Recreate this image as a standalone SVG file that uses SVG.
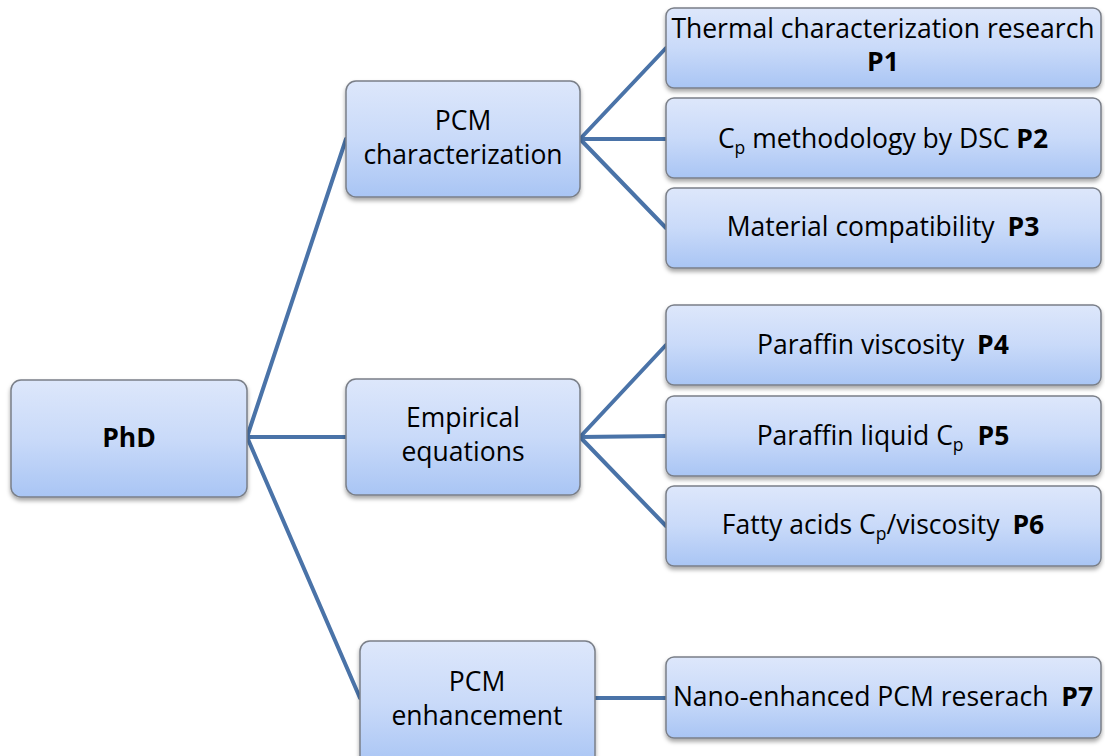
<svg xmlns="http://www.w3.org/2000/svg" width="1105" height="756" viewBox="0 0 1105 756">
<style>
.box{fill:url(#g);stroke:#7a7f88;stroke-width:1.5;filter:url(#sh)}
.t{font-family:"Open Sans",Lato,sans-serif;font-size:26.5px;fill:#000;text-anchor:middle}
.b{font-weight:bold}
.s{font-size:17.5px}
.c{fill:none;stroke:#4a73a8;stroke-width:4;stroke-linecap:round}
</style>
<defs>
<linearGradient id="g" x1="0" y1="0" x2="0" y2="1">
<stop offset="0" stop-color="#dde7fb"/>
<stop offset="0.5" stop-color="#c9daf9"/>
<stop offset="1" stop-color="#a9c5f4"/>
</linearGradient>
<filter id="sh" x="-10%" y="-10%" width="120%" height="130%">
<feDropShadow dx="0" dy="3" stdDeviation="2" flood-color="#000" flood-opacity="0.35"/>
</filter>
</defs>
<rect width="1105" height="756" fill="#fff"/>
<g id="connectors">
<path class="c" d="M247 437 L346 139 M247 437 L346 437 M247 437 L360 698"/>
<path class="c" d="M580 139 L666 48 M580 139 L666 139 M580 139 L666 228"/>
<path class="c" d="M580 437 L666 345 M580 437 L666 436 M580 437 L666 526"/>
<path class="c" d="M595 698 L666 698"/>
</g>
<g id="phd"><rect class="box" x="11" y="380" width="236" height="117" rx="10"/><text class="t b" x="129" y="447">PhD</text></g>
<g id="pcmchar"><rect class="box" x="346" y="81" width="234" height="116" rx="10"/><text class="t" x="463" y="130">PCM</text><text class="t" x="463" y="164">characterization</text></g>
<g id="empirical"><rect class="box" x="346" y="379" width="234" height="116" rx="10"/><text class="t" x="463" y="427">Empirical</text><text class="t" x="463" y="461">equations</text></g>
<g id="pcmenh"><rect class="box" x="360" y="641" width="235" height="125" rx="10"/><text class="t" x="477" y="691">PCM</text><text class="t" x="477" y="725">enhancement</text></g>
<g id="p1"><rect class="box" x="666" y="8" width="435" height="80" rx="8"/><text class="t" x="883" y="38">Thermal characterization research</text><text class="t b" x="883" y="71">P1</text></g>
<g id="p2"><rect class="box" x="666" y="98" width="435" height="80" rx="8"/><text class="t" x="883" y="148">C<tspan class="s" dy="6">p</tspan><tspan dy="-6"> methodology by DSC </tspan><tspan class="b">P2</tspan></text></g>
<g id="p3"><rect class="box" x="666" y="188" width="435" height="80" rx="8"/><text class="t" x="883" y="236">Material compatibility <tspan class="b" dx="6">P3</tspan></text></g>
<g id="p4"><rect class="box" x="666" y="305" width="435" height="80" rx="8"/><text class="t" x="883" y="354">Paraffin viscosity <tspan class="b" dx="6">P4</tspan></text></g>
<g id="p5"><rect class="box" x="666" y="396" width="435" height="80" rx="8"/><text class="t" x="883" y="445">Paraffin liquid C<tspan class="s" dy="6">p</tspan><tspan class="b" dy="-6" dx="14">P5</tspan></text></g>
<g id="p6"><rect class="box" x="666" y="486" width="435" height="80" rx="8"/><text class="t" x="883" y="534">Fatty acids C<tspan class="s" dy="6">p</tspan><tspan dy="-6">/viscosity </tspan><tspan class="b" dx="6">P6</tspan></text></g>
<g id="p7"><rect class="box" x="666" y="657" width="435" height="81" rx="8"/><text class="t" x="883" y="706">Nano-enhanced PCM reserach <tspan class="b" dx="6">P7</tspan></text></g>
</svg>
